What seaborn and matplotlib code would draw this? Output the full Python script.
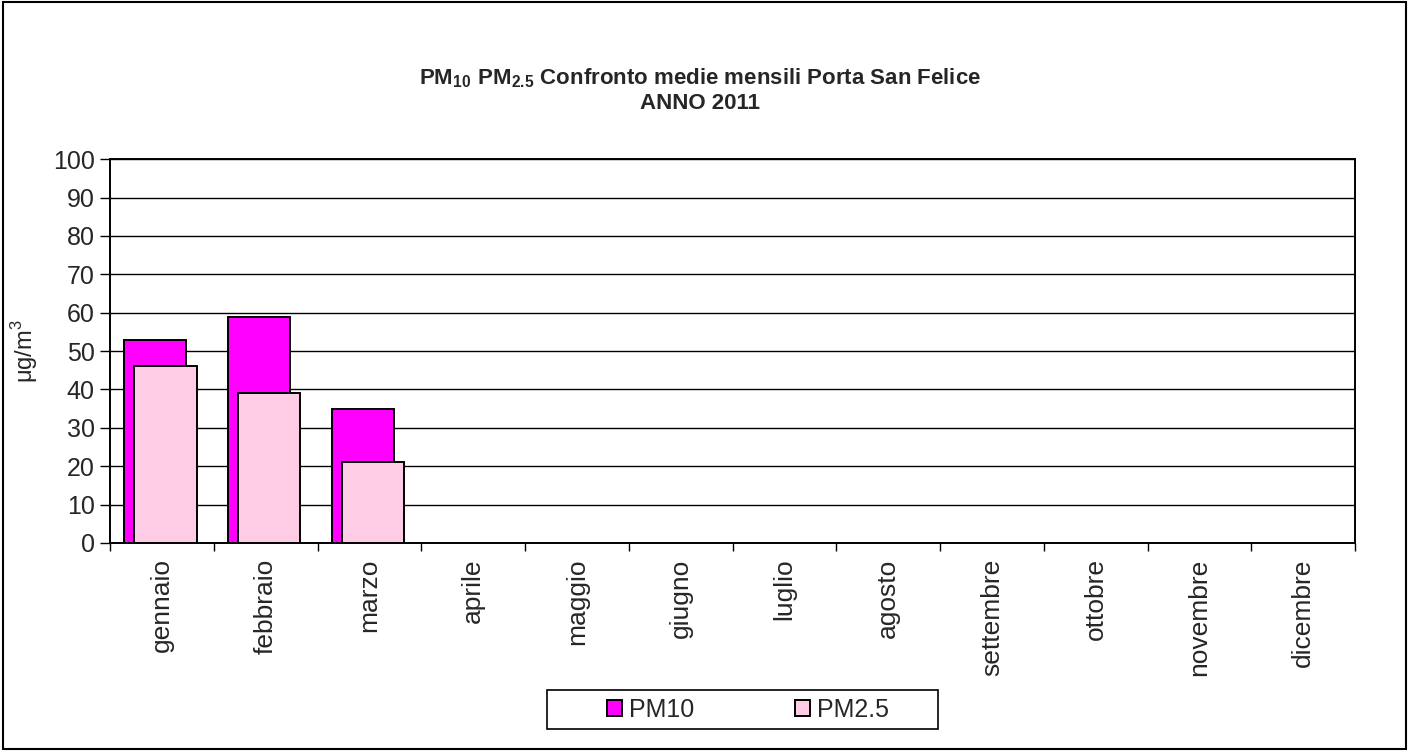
import matplotlib
matplotlib.use("Agg")
import matplotlib.pyplot as plt
import seaborn as sns
import numpy as np
import pandas as pd
from matplotlib.patches import Rectangle

months = ["gennaio", "febbraio", "marzo", "aprile", "maggio", "giugno",
          "luglio", "agosto", "settembre", "ottobre", "novembre", "dicembre"]
pm10 = [53, 59, 35, None, None, None, None, None, None, None, None, None]
pm25 = [46, 39, 21, None, None, None, None, None, None, None, None, None]
yticks = list(range(0, 101, 10))

sns.set_theme(style="white")
plt.rcParams["font.family"] = ["Liberation Sans", "DejaVu Sans"]
plt.rcParams["mathtext.fontset"] = "custom"
plt.rcParams["mathtext.bf"] = "Liberation Sans:bold"
plt.rcParams["mathtext.rm"] = "Liberation Sans"

fig = plt.figure(figsize=(14.09, 7.51), dpi=100)
ax = fig.add_axes([0.0781, 0.277, 0.8836, 0.511])

idx = np.arange(len(months))
df10 = pd.DataFrame({"x": idx - 0.065, "v": pd.to_numeric(pd.Series(pm10))}).dropna()
df25 = pd.DataFrame({"x": idx + 0.035, "v": pd.to_numeric(pd.Series(pm25))}).dropna()

sns.barplot(data=df10, x="x", y="v", native_scale=True, width=0.6,
            color="#FF00FF", saturation=1, edgecolor="black", linewidth=1.4,
            ax=ax, label="PM10", zorder=3)
sns.barplot(data=df25, x="x", y="v", native_scale=True, width=0.6,
            color="#FFCCE5", saturation=1, edgecolor="black", linewidth=1.4,
            ax=ax, label="PM2.5", zorder=4)
handles, labels = ax.get_legend_handles_labels()
if ax.get_legend() is not None:
    ax.get_legend().remove()

ax.set_xlim(-0.5, len(months) - 0.5)
ax.set_ylim(0, 100)
ax.set_yticks(yticks)
ax.yaxis.grid(True, color="black", linewidth=1)
ax.set_axisbelow(True)

ax.set_xticks(idx)
ax.set_xticklabels(months, rotation=90, fontsize=19)
ax.set_xticks(np.arange(len(months) + 1) - 0.5, minor=True)
ax.tick_params(axis="x", which="major", length=0, pad=11)
ax.tick_params(axis="x", which="minor", length=6, width=1, color="black", direction="out", bottom=True)
ax.tick_params(axis="y", length=7, width=1, color="black", direction="out", left=True, labelsize=18, pad=4)
ax.set_xlabel("")
ax.set_ylabel("μg/m$^3$", fontsize=17, labelpad=9)

for s in ax.spines.values():
    s.set_visible(True)
    s.set_color("black")
    s.set_linewidth(1.4)

fig.text(0.497, 0.896, r"$\mathbf{PM_{10}\ PM_{2.5}}$ Confronto medie mensili Porta San Felice",
         ha="center", va="center", fontsize=16, fontweight="bold")
fig.text(0.497, 0.862, "ANNO 2011", ha="center", va="center", fontsize=16, fontweight="bold")

leg = fig.legend(handles, labels, loc="center", ncol=2,
                 bbox_to_anchor=(748 / 1409, 1 - 710 / 751),
                 fontsize=18, frameon=False, handlelength=0.6, handleheight=0.6,
                 handletextpad=0.3, columnspacing=4.0)

# legend box and outer chart border
fig.patches.append(Rectangle((547 / 1409, 22 / 751), 391 / 1409, 39 / 751,
                             transform=fig.transFigure, fill=False,
                             edgecolor="black", linewidth=1.2))
fig.patches.append(Rectangle((0.002, 0.003), 0.996, 0.994, transform=fig.transFigure,
                             fill=False, edgecolor="black", linewidth=1.5))

fig.savefig("out.png", dpi=100)
